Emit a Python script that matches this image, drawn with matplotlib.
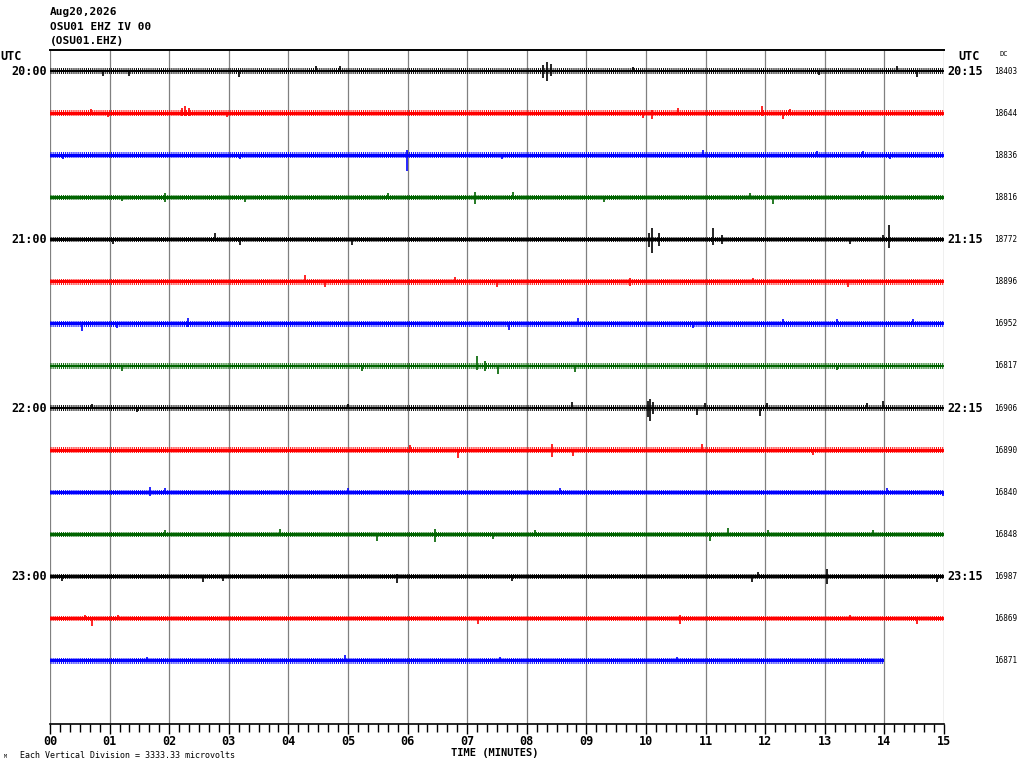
import matplotlib
matplotlib.use("Agg")
import matplotlib.pyplot as plt
from matplotlib.ticker import MultipleLocator, FuncFormatter
import numpy as np

# header / labels
header = ["Aug20,2026", "OSU01 EHZ IV 00", "(OSU01.EHZ)"]
left_times = ["20:00", "21:00", "22:00", "23:00"]
right_times = ["20:15", "21:15", "22:15", "23:15"]
dc_values = [18403, 18644, 18836, 18816, 18772, 18896, 16952, 16817,
             16906, 16890, 16840, 16848, 16987, 16869, 16871]

# one trace per 15 minutes, colours cycle
trace_colors = ["black", "red", "blue", "#006400"]
trace_end = [15] * 14 + [14.0]          # last line stops at 14 min
noise_uv = [240, 240, 230, 230, 220, 230, 230, 225,
            220, 230, 220, 225, 215, 220, 215]   # half width of the fuzz band
core_uv = 110
uv_per_div = 3333.33

# spikes: (minute, up microvolts, down microvolts)
spikes = [
    [(0.89, 0, 400), (1.33, 0, 400), (3.17, 0, 480), (4.46, 400, 0), (4.87, 400, 0),
     (8.27, 480, 560), (8.34, 720, 800), (8.40, 560, 400), (9.78, 320, 0),
     (12.90, 0, 320), (14.21, 400, 0), (14.55, 0, 480)],
    [(0.69, 320, 0), (0.97, 0, 320), (2.22, 400, 240), (2.27, 560, 240), (2.33, 400, 240),
     (2.97, 0, 320), (9.95, 0, 400), (10.10, 240, 480), (10.54, 400, 0),
     (11.95, 560, 240), (12.30, 0, 480), (12.42, 320, 0)],
    [(0.22, 0, 320), (3.19, 0, 320), (5.99, 400, 1280), (7.58, 0, 320), (10.96, 400, 0),
     (12.87, 320, 0), (13.64, 320, 0), (14.09, 0, 320)],
    [(1.21, 0, 320), (1.93, 320, 400), (3.27, 0, 400), (5.67, 320, 0), (7.13, 400, 480),
     (7.77, 400, 0), (9.30, 0, 400), (11.74, 320, 0), (12.13, 0, 480)],
    [(1.06, 0, 320), (2.77, 480, 0), (3.19, 0, 400), (5.07, 0, 400), (10.05, 480, 560),
     (10.10, 880, 1040), (10.22, 480, 480), (11.12, 880, 400), (11.28, 400, 320),
     (13.42, 0, 320), (13.97, 400, 0), (14.08, 1120, 640)],
    [(4.28, 560, 0), (4.61, 0, 400), (6.80, 400, 0), (7.50, 0, 400), (9.73, 320, 320),
     (11.80, 320, 0), (13.39, 0, 400)],
    [(0.54, 0, 560), (1.12, 0, 320), (2.32, 480, 240), (7.70, 0, 480), (8.86, 480, 0),
     (10.79, 0, 320), (12.30, 400, 0), (13.20, 400, 0), (14.48, 400, 0)],
    [(1.21, 0, 400), (5.23, 0, 400), (7.16, 800, 320), (7.30, 400, 400), (7.52, 0, 640),
     (8.81, 0, 480), (13.20, 0, 320)],
    [(0.70, 320, 0), (1.46, 0, 320), (5.00, 320, 0), (8.76, 480, 0), (10.03, 560, 720),
     (10.07, 720, 1040), (10.12, 480, 480), (10.86, 0, 560), (10.99, 400, 0),
     (11.91, 0, 640), (12.03, 400, 0), (13.71, 400, 0), (13.98, 560, 0)],
    [(6.04, 400, 0), (6.85, 0, 640), (8.42, 480, 560), (8.77, 0, 480), (10.94, 480, 0),
     (12.80, 0, 400)],
    [(1.68, 400, 320), (1.93, 320, 0), (5.00, 320, 0), (8.56, 320, 0), (14.04, 320, 0),
     (14.98, 0, 320)],
    [(1.93, 320, 0), (3.86, 400, 0), (5.49, 0, 480), (6.46, 400, 560), (7.43, 0, 400),
     (8.14, 320, 0), (11.07, 0, 480), (11.38, 480, 0), (12.05, 320, 0), (13.81, 320, 0)],
    [(0.20, 0, 320), (2.57, 0, 400), (2.90, 0, 320), (5.82, 240, 480), (7.75, 0, 320),
     (11.78, 0, 400), (11.88, 400, 0), (13.04, 560, 560), (14.88, 0, 400)],
    [(0.59, 320, 0), (0.70, 0, 560), (1.14, 320, 0), (7.18, 0, 400), (10.57, 320, 400),
     (13.42, 320, 0), (14.55, 0, 400)],
    [(1.63, 320, 0), (4.95, 480, 0), (7.55, 320, 0), (10.52, 320, 0)],
]

mono = "DejaVu Sans Mono"
plt.rcParams["hatch.linewidth"] = 0.7
W, H = 1024, 768
fig = plt.figure(figsize=(W / 100, H / 100), dpi=100)
ax = fig.add_axes([50 / W, 44 / H, 894 / W, 674 / H])
ax.set_xlim(0, 15)
ax.set_ylim(15.5, -0.5)

for m in range(16):
    ax.axvline(m, color="#808080", lw=0.9, zorder=1)

for i in range(len(dc_values)):
    c = trace_colors[i % 4]
    n = noise_uv[i] / uv_per_div
    k = core_uv / uv_per_div
    # fuzzy noise band drawn as vertical strokes, solid core on top
    ax.fill_between([0, trace_end[i]], i - n, i + n, facecolor="none", edgecolor=c,
                    hatch="|" * 8, lw=0, zorder=2)
    ax.fill_between([0, trace_end[i]], i - k, i + k, color=c, lw=0, zorder=3)
    for t, up, dn in spikes[i]:
        ax.vlines(t, i - up / uv_per_div, i + dn / uv_per_div, color=c, lw=1.2, zorder=3)

# axes frame
for s in ["left", "right"]:
    ax.spines[s].set_visible(False)
ax.spines["top"].set_linewidth(1.4)
ax.spines["bottom"].set_linewidth(1.2)
ax.set_yticks([])
ax.xaxis.set_major_locator(MultipleLocator(1))
ax.xaxis.set_minor_locator(MultipleLocator(1 / 6))
ax.xaxis.set_major_formatter(FuncFormatter(lambda v, p: "%02d" % int(round(v))))
ax.tick_params(axis="x", which="major", length=7, width=1, direction="out", pad=1,
               labelsize=8.5)
ax.tick_params(axis="x", which="minor", length=5.5, width=1, direction="out")
for lab in ax.get_xticklabels():
    lab.set_fontfamily(mono)
    lab.set_fontweight("bold")

# hour labels left / right, DC values
for k in range(4):
    row = k * 4
    ax.text(-0.003, row, left_times[k], transform=ax.get_yaxis_transform(), ha="right",
            va="center", fontsize=8.5, fontweight="bold", family=mono)
    ax.text(1.004, row, right_times[k], transform=ax.get_yaxis_transform(), ha="left",
            va="center", fontsize=8.5, fontweight="bold", family=mono)
for i, v in enumerate(dc_values):
    ax.text(1.056, i, str(v), transform=ax.get_yaxis_transform(), ha="left",
            va="center", fontsize=5.5, family=mono)

fig.text(0 / W, 1 - 57 / H, "UTC", ha="left", va="center", fontsize=8.5,
         fontweight="bold", family=mono)
fig.text(958 / W, 1 - 57 / H, "UTC", ha="left", va="center", fontsize=8.5,
         fontweight="bold", family=mono)
fig.text(1000 / W, 1 - 54 / H, "DC", ha="left", va="center", fontsize=5, family=mono)

for j, line in enumerate(header):
    fig.text(50 / W, 1 - (12 + 14.5 * j) / H, line, ha="left", va="center",
             fontsize=8, fontweight="bold", family=mono)

fig.text(495 / W, 1 - 753 / H, "TIME (MINUTES)", ha="center", va="center",
         fontsize=7.5, fontweight="bold", family=mono)
fig.text(20 / W, 1 - 755 / H, "Each Vertical Division = 3333.33 microvolts",
         ha="left", va="center", fontsize=6, family=mono)
fig.text(4 / W, 1 - 757 / H, "M", ha="left", va="center", fontsize=3.5, family=mono)

fig.savefig("out.png", dpi=100, facecolor="white")
